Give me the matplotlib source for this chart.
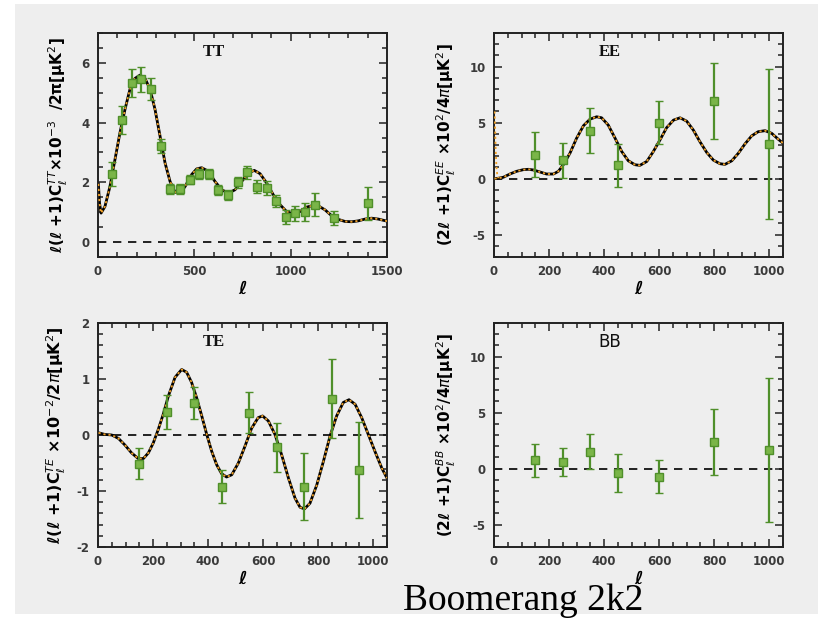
import matplotlib
matplotlib.use("Agg")
import matplotlib.pyplot as plt
from matplotlib.patches import Rectangle
from matplotlib.ticker import MultipleLocator

plt.rcParams['axes.unicode_minus'] = False
plt.rcParams['font.family'] = ['DejaVu Sans']

# ---- TT ----
tt_ell = [75, 125, 175, 225, 275, 325, 375, 425, 475, 525, 575, 625, 675, 725,
          775, 825, 875, 925, 975, 1025, 1075, 1125, 1225, 1400]
tt_val = [2.28, 4.09, 5.32, 5.45, 5.12, 3.21, 1.77, 1.77, 2.09, 2.28, 2.28, 1.75,
          1.58, 2.00, 2.33, 1.86, 1.81, 1.39, 0.85, 0.97, 1.02, 1.25, 0.80, 1.30]
tt_err = [0.40, 0.46, 0.47, 0.41, 0.37, 0.24, 0.16, 0.16, 0.16, 0.17, 0.17, 0.17,
          0.17, 0.19, 0.22, 0.22, 0.22, 0.20, 0.23, 0.25, 0.30, 0.38, 0.24, 0.55]
tt_model_ell = [2, 8, 16, 36, 62, 88, 114, 140, 166, 192, 218, 244, 270, 296, 322,
                348, 374, 400, 426, 452, 486, 512, 538, 573, 607, 642, 677, 711,
                746, 780, 811, 841, 875, 910, 945, 979, 1014, 1048, 1083, 1118,
                1144, 1178, 1213, 1247, 1282, 1317, 1351, 1386, 1420, 1455, 1500]
tt_model = [1.95, 1.30, 0.97, 1.19, 1.86, 2.76, 3.66, 4.44, 5.12, 5.48, 5.59, 5.48,
            5.12, 4.44, 3.55, 2.65, 2.03, 1.67, 1.64, 1.86, 2.26, 2.45, 2.49, 2.37,
            2.03, 1.75, 1.64, 1.75, 2.03, 2.31, 2.40, 2.29, 1.98, 1.58, 1.25, 1.02,
            0.94, 1.02, 1.17, 1.23, 1.21, 1.08, 0.88, 0.76, 0.69, 0.68, 0.71, 0.77,
            0.80, 0.77, 0.70]

# ---- EE ----
ee_ell = [150, 250, 350, 450, 600, 800, 1000]
ee_val = [2.12, 1.62, 4.28, 1.18, 4.99, 6.93, 3.10]
ee_err = [2.00, 1.55, 2.00, 1.95, 1.90, 3.35, 6.70]
ee_model_ell = [2, 16, 34, 58, 82, 107, 125, 143, 167, 191, 216, 234, 252, 276,
                300, 325, 349, 373, 391, 415, 440, 464, 488, 512, 530, 555, 579,
                603, 627, 652, 676, 700, 724, 748, 773, 797, 821, 839, 864, 888,
                912, 936, 960, 985, 1009, 1033, 1050]
ee_model = [0.0, 0.03, 0.12, 0.41, 0.65, 0.80, 0.83, 0.77, 0.59, 0.41, 0.41, 0.65,
            1.24, 2.27, 3.60, 4.72, 5.31, 5.52, 5.43, 4.78, 3.60, 2.42, 1.59, 1.24,
            1.18, 1.53, 2.42, 3.45, 4.54, 5.22, 5.43, 5.13, 4.34, 3.30, 2.33, 1.65,
            1.33, 1.27, 1.59, 2.27, 3.10, 3.81, 4.19, 4.28, 4.04, 3.51, 3.16]
# reionization bump of the second model at low multipoles
ee_reion_ell = [2, 4, 6, 9, 12, 16]
ee_reion = [6.0, 4.5, 2.6, 1.0, 0.3, 0.03]

# ---- TE ----
te_ell = [150, 250, 350, 450, 550, 650, 750, 850, 950]
te_val = [-0.51, 0.41, 0.57, -0.92, 0.40, -0.22, -0.92, 0.65, -0.63]
te_err = [0.27, 0.31, 0.28, 0.29, 0.37, 0.44, 0.59, 0.71, 0.86]
te_model_ell = [2, 25, 50, 74, 98, 122, 146, 165, 183, 201, 219, 237, 256, 280,
                304, 322, 340, 358, 377, 395, 413, 431, 449, 467, 486, 510, 534,
                558, 582, 598, 619, 643, 667, 692, 716, 734, 750, 770, 795, 819,
                843, 867, 891, 912, 934, 958, 982, 1006, 1031, 1050]
te_model = [0.04, 0.01, 0.0, -0.06, -0.18, -0.32, -0.42, -0.42, -0.32, -0.14, 0.10,
            0.37, 0.70, 1.03, 1.17, 1.12, 0.94, 0.67, 0.34, 0.01, -0.29, -0.53,
            -0.69, -0.75, -0.71, -0.50, -0.20, 0.12, 0.31, 0.34, 0.25, 0.01, -0.35,
            -0.77, -1.13, -1.29, -1.32, -1.22, -0.89, -0.47, -0.02, 0.34, 0.58,
            0.63, 0.55, 0.31, 0.01, -0.29, -0.59, -0.77]

# ---- BB ----
bb_ell = [150, 250, 350, 450, 600, 800, 1000]
bb_val = [0.74, 0.60, 1.49, -0.39, -0.71, 2.35, 1.67]
bb_err = [1.45, 1.24, 1.56, 1.73, 1.46, 2.96, 6.44]

BG = '#eeeeee'
GREEN_E = '#4f8f2a'
GREEN_F = '#7ab548'
TICKC = '#3a3a3a'

fig = plt.figure(figsize=(8.18, 6.19), dpi=100)
fig.patch.set_facecolor('white')
fig.patches.append(Rectangle((15 / 818, 5 / 619), 1 - 15 / 818, 610 / 619,
                             transform=fig.transFigure, facecolor=BG,
                             edgecolor='none', zorder=-10))

W, H = 289 / 818, 224 / 619
ax_tt = fig.add_axes([98 / 818, 362 / 619, W, H])
ax_ee = fig.add_axes([494 / 818, 362 / 619, W, H])
ax_te = fig.add_axes([98 / 818, 72 / 619, W, H])
ax_bb = fig.add_axes([494 / 818, 72 / 619, W, H])


def style(ax, xlim, ylim, xmaj, xmin, ymaj, ymin):
    ax.set_facecolor(BG)
    ax.set_xlim(*xlim)
    ax.set_ylim(*ylim)
    ax.xaxis.set_major_locator(MultipleLocator(xmaj))
    ax.xaxis.set_minor_locator(MultipleLocator(xmin))
    ax.yaxis.set_major_locator(MultipleLocator(ymaj))
    ax.yaxis.set_minor_locator(MultipleLocator(ymin))
    ax.tick_params(which='both', direction='in', top=True, right=True,
                   colors='#222222', labelcolor=TICKC, labelsize=8.5, width=1.1)
    ax.tick_params(which='major', length=6, pad=6)
    ax.tick_params(which='minor', length=3.5)
    for lab in ax.get_xticklabels() + ax.get_yticklabels():
        lab.set_fontweight('bold')
    for sp in ax.spines.values():
        sp.set_linewidth(1.4)
        sp.set_color('#222222')
    ax.axhline(0, color='black', lw=1.2, ls=(0, (5, 4)), zorder=1)
    ax.set_xlabel('ℓ', fontsize=13, fontweight='bold', fontstyle='italic',
                  labelpad=1)


def model(ax, ell, val):
    ax.plot(ell, val, color='black', lw=2.0, zorder=2)
    ax.plot(ell, val, color='#f0a028', lw=1.3, ls=(0, (1.2, 1.6)), zorder=3)


def data(ax, ell, val, err):
    ax.errorbar(ell, val, yerr=err, fmt='s', ms=5.5, mfc=GREEN_F, mec=GREEN_E,
                mew=1.0, ecolor=GREEN_E, elinewidth=1.6, capsize=3,
                capthick=1.2, zorder=4)


def title(ax, txt, serif=True):
    kw = dict(family='Liberation Serif', fontweight='bold', fontsize=12) if serif \
        else dict(family='DejaVu Sans', fontsize=12)
    ax.text(0.40, 0.915, txt, transform=ax.transAxes, ha='center', va='center',
            color='#111111', **kw)


style(ax_tt, (0, 1500), (-0.5, 7), 500, 100, 2, 0.5)
model(ax_tt, tt_model_ell, tt_model)
data(ax_tt, tt_ell, tt_val, tt_err)
title(ax_tt, 'TT')
ax_tt.set_ylabel(r'ℓ(ℓ +1)C$_\ell^{TT}$×10$^{-3}$  /2π[μK$^2$]',
                 fontsize=11, fontweight='bold', labelpad=8)

style(ax_ee, (0, 1050), (-7, 13), 200, 50, 5, 1)
ax_ee.plot(ee_reion_ell, ee_reion, color='#f0a028', lw=1.3,
           ls=(0, (1.2, 1.6)), zorder=3)
model(ax_ee, ee_model_ell, ee_model)
data(ax_ee, ee_ell, ee_val, ee_err)
title(ax_ee, 'EE')
ax_ee.set_ylabel(r'(2ℓ +1)C$_\ell^{EE}$ ×10$^2$/4$\pi$[μK$^2$]',
                 fontsize=11, fontweight='bold', labelpad=8)

style(ax_te, (0, 1050), (-2, 2), 200, 50, 1, 0.2)
model(ax_te, te_model_ell, te_model)
data(ax_te, te_ell, te_val, te_err)
title(ax_te, 'TE')
ax_te.set_ylabel(r'ℓ(ℓ +1)C$_\ell^{TE}$ ×10$^{-2}$/2$\pi$[μK$^2$]',
                 fontsize=11.5, fontweight='bold', labelpad=6)

style(ax_bb, (0, 1050), (-7, 13), 200, 50, 5, 1)
data(ax_bb, bb_ell, bb_val, bb_err)
title(ax_bb, 'BB', serif=False)
ax_bb.set_ylabel(r'(2ℓ +1)C$_\ell^{BB}$ ×10$^2$/4$\pi$[μK$^2$]',
                 fontsize=11, fontweight='bold', labelpad=8)

fig.text(403 / 818, 9 / 619, 'Boomerang 2k2', family='Liberation Serif',
         fontsize=27, va='baseline', ha='left', color='black', zorder=10)

fig.savefig('out.png', dpi=100)
